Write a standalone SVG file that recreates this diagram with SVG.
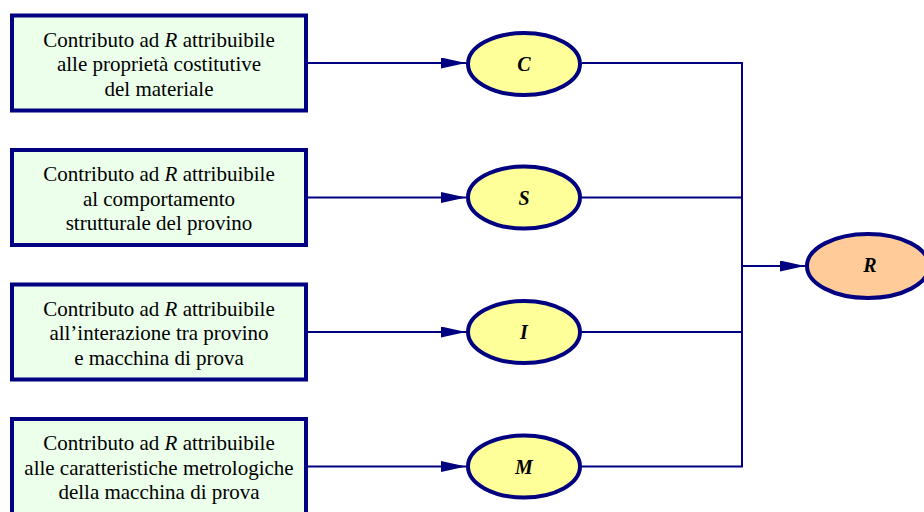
<svg xmlns="http://www.w3.org/2000/svg" width="924" height="512" viewBox="0 0 924 512">
<style>
.box{fill:#EBFFEB;stroke:#000080;stroke-width:4}
.ell{fill:#FFFF99;stroke:#000080;stroke-width:4}
.res{fill:#FFCC99;stroke:#000080;stroke-width:4}
.t{font-family:"Liberation Serif","Times New Roman",serif;font-size:21px;fill:#000;text-anchor:middle}
.lab{font-family:"Liberation Serif","Times New Roman",serif;font-size:20px;font-weight:bold;font-style:italic;fill:#000;text-anchor:middle}
.c{fill:none;stroke:#000080;stroke-width:2}
</style>
<defs>
<marker id="ah" markerUnits="userSpaceOnUse" markerWidth="25" markerHeight="11" refX="25" refY="5.5" orient="auto">
<path d="M0,0 L25,5.5 L0,11 z" fill="#000080"/>
</marker>
</defs>
<g id="connectors">
<path class="c" d="M308,63 H466" marker-end="url(#ah)"/>
<path class="c" d="M308,197.5 H466" marker-end="url(#ah)"/>
<path class="c" d="M308,332 H466" marker-end="url(#ah)"/>
<path class="c" d="M308,466.5 H466" marker-end="url(#ah)"/>
<path class="c" d="M582,63 H742 V466.5 H582"/>
<path class="c" d="M582,197.5 H742"/>
<path class="c" d="M582,332 H742"/>
<path class="c" d="M742,266 H805" marker-end="url(#ah)"/>
</g>
<g id="box1">
<rect class="box" x="12" y="15.5" width="294" height="95"/>
<text class="t" x="159" y="46.5">Contributo ad <tspan font-style="italic">R</tspan> attribuibile</text>
<text class="t" x="159" y="71">alle proprietà costitutive</text>
<text class="t" x="159" y="95.5">del materiale</text>
</g>
<g id="box2">
<rect class="box" x="12" y="150" width="294" height="95"/>
<text class="t" x="159" y="181">Contributo ad <tspan font-style="italic">R</tspan> attribuibile</text>
<text class="t" x="159" y="205.5">al comportamento</text>
<text class="t" x="159" y="230">strutturale del provino</text>
</g>
<g id="box3">
<rect class="box" x="12" y="284.5" width="294" height="95"/>
<text class="t" x="159" y="315.5">Contributo ad <tspan font-style="italic">R</tspan> attribuibile</text>
<text class="t" x="159" y="340">all’interazione tra provino</text>
<text class="t" x="159" y="364.5">e macchina di prova</text>
</g>
<g id="box4">
<rect class="box" x="12" y="419" width="294" height="95"/>
<text class="t" x="159" y="450">Contributo ad <tspan font-style="italic">R</tspan> attribuibile</text>
<text class="t" x="159" y="474.5">alle caratteristiche metrologiche</text>
<text class="t" x="159" y="499">della macchina di prova</text>
</g>
<g id="nodeC">
<ellipse class="ell" cx="524" cy="64" rx="56" ry="31"/>
<text class="lab" x="524" y="71">C</text>
</g>
<g id="nodeS">
<ellipse class="ell" cx="524" cy="197.5" rx="56" ry="31"/>
<text class="lab" x="524" y="204.5">S</text>
</g>
<g id="nodeI">
<ellipse class="ell" cx="524" cy="332" rx="56" ry="31"/>
<text class="lab" x="524" y="339">I</text>
</g>
<g id="nodeM">
<ellipse class="ell" cx="524" cy="466.5" rx="56" ry="31"/>
<text class="lab" x="524" y="473.5">M</text>
</g>
<g id="nodeR">
<ellipse class="res" cx="868" cy="266" rx="61" ry="32"/>
<text class="lab" x="870" y="272">R</text>
</g>
</svg>
